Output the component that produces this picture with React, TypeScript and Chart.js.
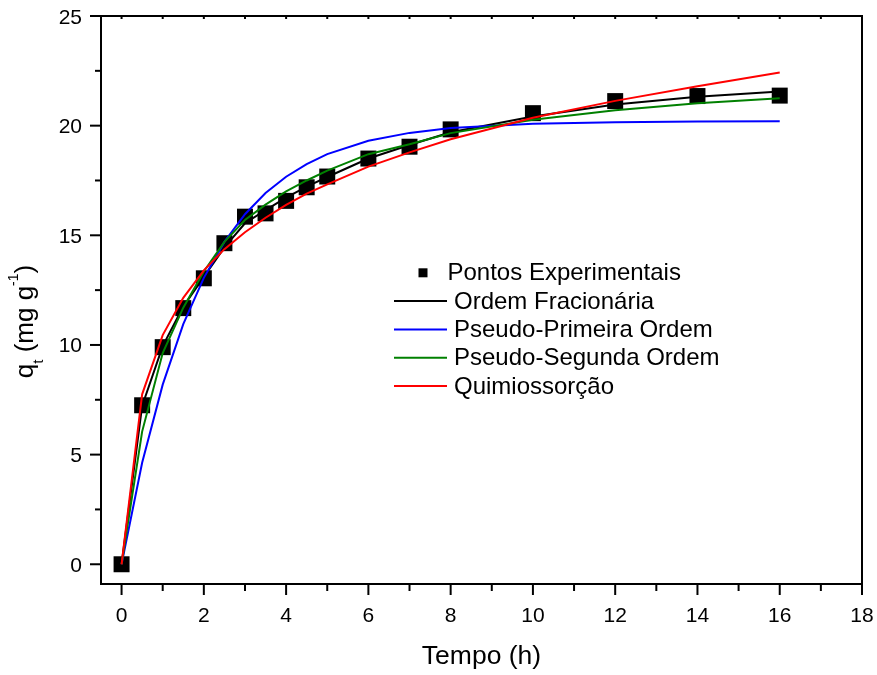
import React, { useEffect, useRef } from "react";
import { Chart, registerables } from "chart.js";

Chart.register(...registerables);

// Sampling times (h)
const times = [0, 0.5, 1, 1.5, 2, 2.5, 3, 3.5, 4, 4.5, 5, 6, 7, 8, 10, 12, 14, 16];

// Measured adsorbed amount q_t (mg g^-1)
const experimental = [0, 7.25, 9.9, 11.68, 13.04, 14.64, 15.85, 16.0, 16.57, 17.19, 17.68, 18.5, 19.04, 19.83, 20.57, 21.12, 21.35, 21.37];

// Kinetic model curves evaluated at the same times
const fractionalOrder = [0, 7.22, 9.95, 11.75, 13.1, 14.45, 15.55, 16.15, 16.72, 17.22, 17.66, 18.5, 19.12, 19.7, 20.42, 20.96, 21.32, 21.56];
const pseudoFirstOrder = [0, 4.63, 8.19, 10.95, 13.06, 14.7, 15.96, 16.93, 17.67, 18.25, 18.7, 19.31, 19.67, 19.89, 20.09, 20.16, 20.19, 20.2];
const pseudoSecondOrder = [0, 6.05, 9.63, 11.7, 13.35, 14.7, 15.7, 16.4, 17.0, 17.5, 17.95, 18.7, 19.15, 19.66, 20.27, 20.7, 21.02, 21.25];
const chemisorption = [0, 7.75, 10.45, 12.15, 13.4, 14.37, 15.14, 15.8, 16.39, 16.9, 17.32, 18.13, 18.78, 19.38, 20.36, 21.13, 21.8, 22.42];

const seriesNames = [
  "Pontos Experimentais",
  "Ordem Fracionária",
  "Pseudo-Primeira Ordem",
  "Pseudo-Segunda Ordem",
  "Quimiossorção",
];
const seriesColors = ["#000000", "#000000", "#0000ff", "#008000", "#ff0000"];

// Axis tick labels
const xTickValues = [0, 2, 4, 6, 8, 10, 12, 14, 16, 18];
const yTickValues = [0, 5, 10, 15, 20, 25];

const xTitle = "Tempo (h)";
const xRange = [-0.5, 18];
const yRange = [-0.9, 25];

const FONT = "'Liberation Sans', Arial, Helvetica, sans-serif";

const toPoints = (ys: number[]) => times.map((t, i) => ({ x: t, y: ys[i] }));

const decorations = {
  id: "decorations",
  afterDraw(chart: any) {
    const { ctx, chartArea: a, scales } = chart;
    const xs = scales.x;
    const ys = scales.y;
    const seg = (x1: number, y1: number, x2: number, y2: number) => {
      ctx.beginPath();
      ctx.moveTo(x1, y1);
      ctx.lineTo(x2, y2);
      ctx.stroke();
    };
    ctx.save();
    ctx.strokeStyle = "#000";
    ctx.lineWidth = 2;
    ctx.lineCap = "butt";
    ctx.strokeRect(a.left, a.top, a.right - a.left, a.bottom - a.top);

    // x ticks: major every 2, minor every 1
    for (let v = 0; v <= 18; v += 1) {
      const px = xs.getPixelForValue(v);
      const len = v % 2 === 0 ? 11 : 7;
      seg(px, a.bottom, px, a.bottom + len);
      seg(px, a.top, px, a.top + 3);
    }
    // y ticks: major every 5, minor every 2.5
    for (let v = 0; v <= 25; v += 2.5) {
      const py = ys.getPixelForValue(v);
      const len = v % 5 === 0 ? 11 : 6;
      seg(a.left, py, a.left - len, py);
    }

    ctx.fillStyle = "#000";
    ctx.textBaseline = "alphabetic";
    ctx.font = `21px ${FONT}`;
    ctx.textAlign = "center";
    for (const v of xTickValues) {
      ctx.fillText(String(v), xs.getPixelForValue(v), a.bottom + 37.5);
    }
    ctx.textAlign = "right";
    for (const v of yTickValues) {
      ctx.fillText(String(v), a.left - 19, ys.getPixelForValue(v) + 7.5);
    }

    // x axis title
    ctx.font = `26.5px ${FONT}`;
    ctx.textAlign = "center";
    ctx.fillText(xTitle, (a.left + a.right) / 2, 664);

    // y axis title with subscript and superscript
    const parts: { t: string; size: number; dy: number }[] = [
      { t: "q", size: 26, dy: 0 },
      { t: "t", size: 15, dy: 10 },
      { t: " (mg g", size: 26, dy: 0 },
      { t: "-1", size: 14, dy: -15 },
      { t: ")", size: 26, dy: 0 },
    ];
    let total = 0;
    for (const p of parts) {
      ctx.font = `${p.size}px ${FONT}`;
      total += ctx.measureText(p.t).width;
    }
    ctx.save();
    ctx.translate(33, 321.5);
    ctx.rotate(-Math.PI / 2);
    ctx.textAlign = "left";
    let cx = -total / 2;
    for (const p of parts) {
      ctx.font = `${p.size}px ${FONT}`;
      ctx.fillText(p.t, cx, p.dy);
      cx += ctx.measureText(p.t).width;
    }
    ctx.restore();

    // legend
    const rowY0 = 272.8;
    const rowStep = 28.3;
    ctx.font = `24px ${FONT}`;
    ctx.textAlign = "left";
    seriesNames.forEach((name, i) => {
      const ry = rowY0 + i * rowStep;
      if (i === 0) {
        ctx.fillStyle = seriesColors[0];
        ctx.fillRect(423 - 4.5, ry - 4.5, 9, 9);
        ctx.fillStyle = "#000";
        ctx.fillText(name, 447.5, ry + 7.5);
      } else {
        ctx.strokeStyle = seriesColors[i];
        ctx.lineWidth = 2;
        seg(394, ry, 447, ry);
        ctx.fillStyle = "#000";
        ctx.fillText(name, 454, ry + 7.5);
      }
    });
    ctx.restore();
  },
};

export default function App() {
  const canvasRef = useRef<HTMLCanvasElement | null>(null);

  useEffect(() => {
    const canvas = canvasRef.current;
    if (!canvas) return;
    const lineDs = (idx: number, ys: number[], order: number) => ({
      label: seriesNames[idx],
      data: toPoints(ys),
      borderColor: seriesColors[idx],
      backgroundColor: seriesColors[idx],
      borderWidth: 2,
      pointRadius: 0,
      tension: 0,
      fill: false,
      order,
    });
    const chart = new Chart(canvas, {
      type: "line",
      data: {
        datasets: [
          {
            label: seriesNames[0],
            data: toPoints(experimental),
            showLine: false,
            pointStyle: "rect",
            pointRadius: 11.3,
            pointBackgroundColor: "#000",
            pointBorderWidth: 0,
            borderColor: "#000",
            backgroundColor: "#000",
            order: 5,
          } as any,
          lineDs(1, fractionalOrder, 4),
          lineDs(2, pseudoFirstOrder, 3),
          lineDs(3, pseudoSecondOrder, 2),
          lineDs(4, chemisorption, 1),
        ],
      },
      options: {
        responsive: false,
        animation: false,
        devicePixelRatio: 1,
        layout: { padding: { left: 0, right: 15, top: 16, bottom: 0 } },
        plugins: {
          legend: { display: false },
          tooltip: { enabled: false },
        },
        scales: {
          x: {
            type: "linear",
            min: xRange[0],
            max: xRange[1],
            afterFit: (s: any) => {
              s.height = 91;
            },
            grid: { display: false, drawTicks: false },
            border: { display: false },
            ticks: { display: false, stepSize: 2, includeBounds: false },
          },
          y: {
            type: "linear",
            min: yRange[0],
            max: yRange[1],
            afterFit: (s: any) => {
              s.width = 101;
            },
            grid: { display: false, drawTicks: false },
            border: { display: false },
            ticks: { display: false, stepSize: 5, includeBounds: false },
          },
        },
      } as any,
      plugins: [decorations],
    });
    return () => chart.destroy();
  }, []);

  return (
    <div style={{ position: "absolute", left: 0, top: 0, width: 877, height: 675, background: "#fff" }}>
      <canvas ref={canvasRef} width={877} height={675} style={{ width: 877, height: 675, display: "block" }} />
    </div>
  );
}
